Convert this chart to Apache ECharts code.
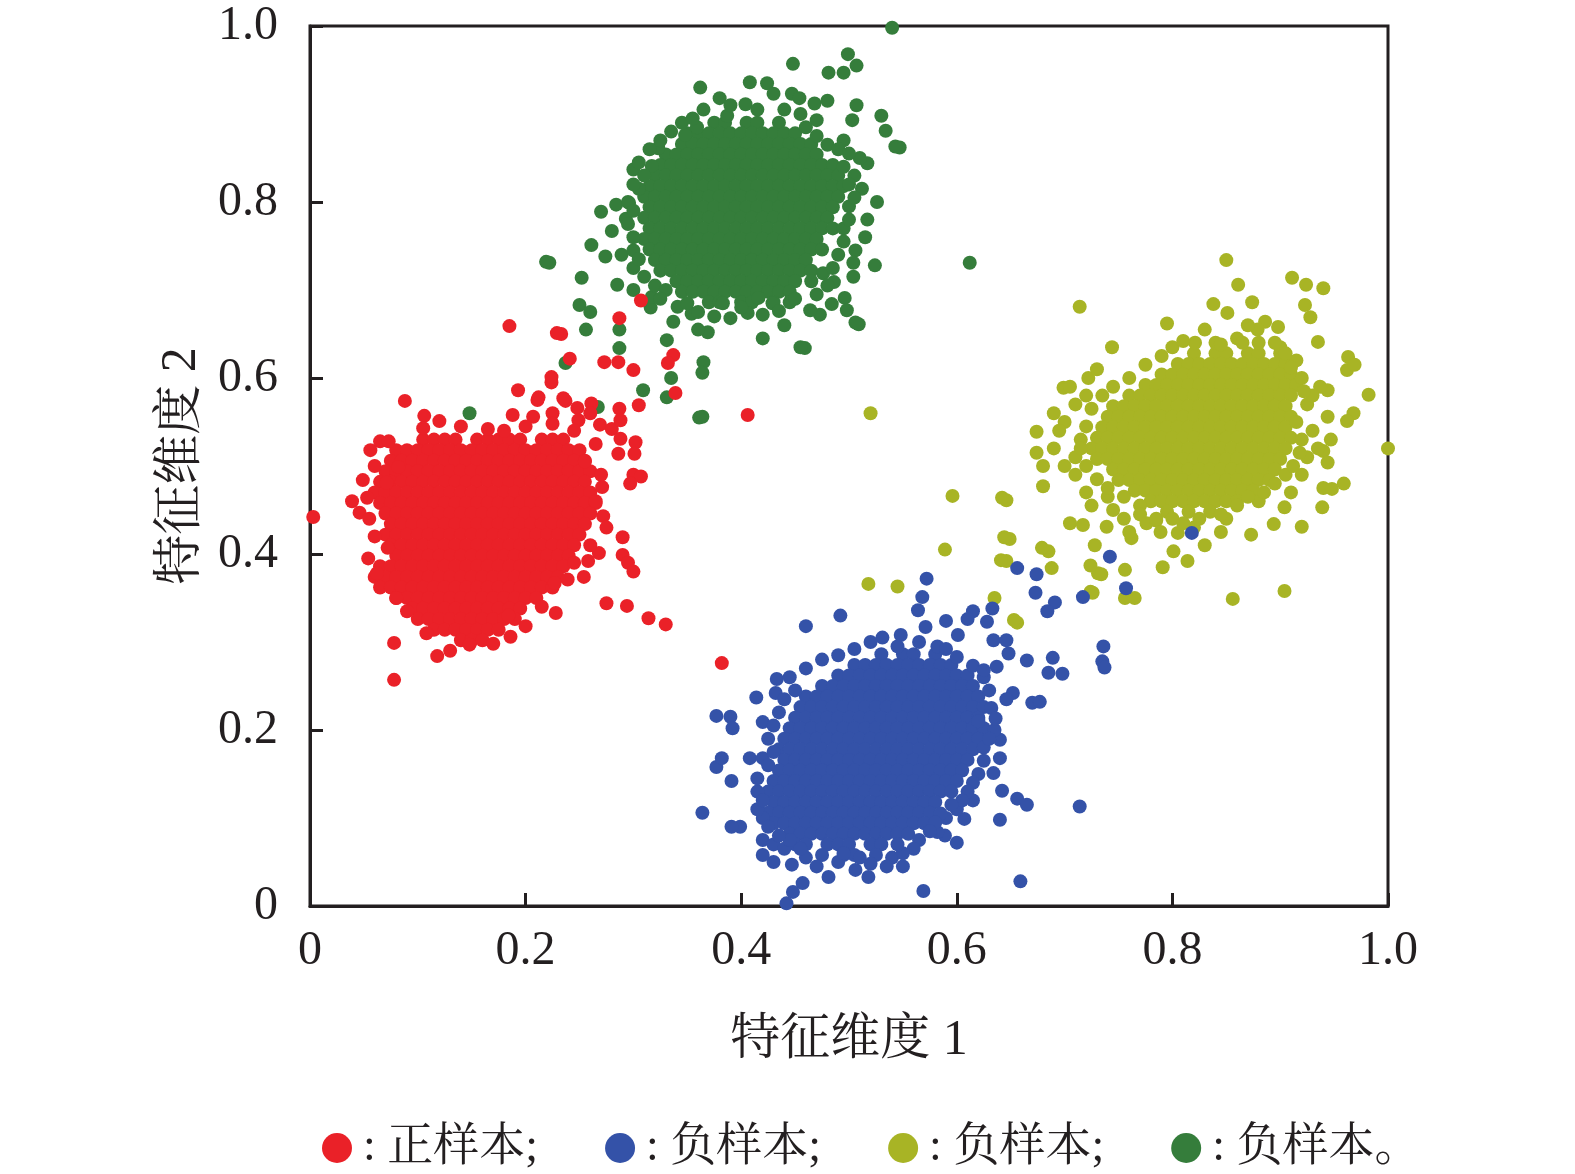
<!DOCTYPE html>
<html>
<head>
<meta charset="utf-8">
<script src="https://cdn.jsdelivr.net/npm/echarts@6/dist/echarts.min.js"></script>
<style>
html, body { margin: 0; padding: 0; background: #fff; }
#main { width: 1575px; height: 1174px; }
</style>
</head>
<body>
<div id="main"></div>
<script>
var color = ['#ea2128', '#3452a8', '#a8b425', '#357d3b'];  // 红 蓝 黄绿 绿
var ink = '#231f20';
var fontStack = "'Liberation Serif', 'Noto Serif CJK SC', 'Noto Sans CJK SC', serif";

var seriesNames = ['正样本', '负样本 A', '负样本 B', '负样本 C'];
var legendTexts = [': 正样本;', ': 负样本;', ': 负样本;', ': 负样本。'];

// 密集核心：每行 [y, [x...]]
var redCore = [
	[.530, [.105,.115,.125,.135,.155,.165,.175,.185,.195,.215,.225,.235]],
	[.518, [.08,.09,.10,.11,.12,.13,.14,.15,.16,.17,.18,.19,.20,.21,.22,.23,.24,.25]],
	[.506, [.075,.085,.095,.105,.115,.125,.135,.145,.155,.165,.175,.185,.195,.205,.215,.225,.235,.245,.255]],
	[.494, [.07,.08,.09,.10,.11,.12,.13,.14,.15,.16,.17,.18,.19,.20,.21,.22,.23,.24,.25,.26]],
	[.482, [.065,.075,.085,.095,.105,.115,.125,.135,.145,.155,.165,.175,.185,.195,.205,.215,.225,.235,.245,.255]],
	[.470, [.06,.07,.08,.09,.10,.11,.12,.13,.14,.15,.16,.17,.18,.19,.20,.21,.22,.23,.24,.25,.26]],
	[.458, [.065,.075,.085,.095,.105,.115,.125,.135,.145,.155,.165,.175,.185,.195,.205,.215,.225,.235,.245,.255,.265]],
	[.446, [.07,.08,.09,.10,.11,.12,.13,.14,.15,.16,.17,.18,.19,.20,.21,.22,.23,.24,.25,.26]],
	[.434, [.075,.085,.095,.105,.115,.125,.135,.145,.155,.165,.175,.185,.195,.205,.215,.225,.235,.245,.255]],
	[.422, [.07,.08,.09,.10,.11,.12,.13,.14,.15,.16,.17,.18,.19,.20,.21,.22,.23,.24,.25]],
	[.410, [.075,.085,.095,.105,.115,.125,.135,.145,.155,.165,.175,.185,.195,.205,.215,.225,.235,.245]],
	[.398, [.08,.09,.10,.11,.12,.13,.14,.15,.16,.17,.18,.19,.20,.21,.22,.23,.24]],
	[.386, [.065,.075,.085,.095,.105,.115,.125,.135,.145,.155,.165,.175,.185,.195,.205,.215,.225,.235]],
	[.374, [.06,.07,.08,.09,.10,.11,.12,.13,.14,.15,.16,.17,.18,.19,.20,.21,.22,.23]],
	[.362, [.065,.075,.085,.095,.105,.115,.125,.135,.145,.155,.165,.175,.185,.195,.205,.215,.225]],
	[.350, [.08,.09,.10,.11,.12,.13,.14,.15,.16,.17,.18,.19,.20,.21]],
	[.338, [.095,.105,.115,.125,.135,.145,.155,.165,.175,.185,.195]],
	[.326, [.10,.11,.12,.13,.14,.15,.16,.17,.18,.19]],
	[.314, [.115,.125,.135,.145,.155,.165,.175]],
	[.302, [.14,.15,.16]]
];
var greenCore = [
	[.890, [.375,.385,.405,.415,.435]],
	[.878, [.35,.36,.37,.38,.39,.40,.41,.42,.43,.44,.45]],
	[.866, [.345,.355,.365,.375,.385,.395,.405,.415,.425,.435,.445,.455,.465]],
	[.854, [.33,.34,.35,.36,.37,.38,.39,.40,.41,.42,.43,.44,.45,.46,.47]],
	[.842, [.325,.335,.345,.355,.365,.375,.385,.395,.405,.415,.425,.435,.445,.455,.465,.475,.485]],
	[.830, [.32,.33,.34,.35,.36,.37,.38,.39,.40,.41,.42,.43,.44,.45,.46,.47,.48,.49]],
	[.818, [.315,.325,.335,.345,.355,.365,.375,.385,.395,.405,.415,.425,.435,.445,.455,.465,.475,.485,.495]],
	[.806, [.31,.32,.33,.34,.35,.36,.37,.38,.39,.40,.41,.42,.43,.44,.45,.46,.47,.48,.49]],
	[.794, [.315,.325,.335,.345,.355,.365,.375,.385,.395,.405,.415,.425,.435,.445,.455,.465,.475,.485]],
	[.782, [.31,.32,.33,.34,.35,.36,.37,.38,.39,.40,.41,.42,.43,.44,.45,.46,.47,.48]],
	[.770, [.315,.325,.335,.345,.355,.365,.375,.385,.395,.405,.415,.425,.435,.445,.455,.465,.475,.485]],
	[.758, [.31,.32,.33,.34,.35,.36,.37,.38,.39,.40,.41,.42,.43,.44,.45,.46,.47]],
	[.746, [.315,.325,.335,.345,.355,.365,.375,.385,.395,.405,.415,.425,.435,.445,.455,.465,.475]],
	[.734, [.32,.33,.34,.35,.36,.37,.38,.39,.40,.41,.42,.43,.44,.45,.46]],
	[.722, [.325,.335,.345,.355,.365,.375,.385,.395,.405,.415,.425,.435,.445,.455,.465]],
	[.710, [.34,.35,.36,.37,.38,.39,.40,.41,.42,.43,.44,.45]],
	[.698, [.345,.355,.365,.375,.385,.395,.405,.415,.425,.435,.445]],
	[.686, [.37,.38,.40,.41,.43]]
];
var blueCore = [
	[.286, [.53,.55,.56,.58]],
	[.274, [.505,.515,.525,.535,.545,.555,.565,.575,.585,.595]],
	[.262, [.49,.50,.51,.52,.53,.54,.55,.56,.57,.58,.59,.60,.61]],
	[.250, [.475,.485,.495,.505,.515,.525,.535,.545,.555,.565,.575,.585,.595,.605,.615]],
	[.238, [.46,.47,.48,.49,.50,.51,.52,.53,.54,.55,.56,.57,.58,.59,.60,.61,.62]],
	[.226, [.455,.465,.475,.485,.495,.505,.515,.525,.535,.545,.555,.565,.575,.585,.595,.605,.615,.625]],
	[.214, [.45,.46,.47,.48,.49,.50,.51,.52,.53,.54,.55,.56,.57,.58,.59,.60,.61,.62]],
	[.202, [.445,.455,.465,.475,.485,.495,.505,.515,.525,.535,.545,.555,.565,.575,.585,.595,.605,.615,.625]],
	[.190, [.44,.45,.46,.47,.48,.49,.50,.51,.52,.53,.54,.55,.56,.57,.58,.59,.60,.61,.62]],
	[.178, [.435,.445,.455,.465,.475,.485,.495,.505,.515,.525,.535,.545,.555,.565,.575,.585,.595,.605,.615]],
	[.166, [.44,.45,.46,.47,.48,.49,.50,.51,.52,.53,.54,.55,.56,.57,.58,.59,.60,.61]],
	[.154, [.435,.445,.455,.465,.475,.485,.495,.505,.515,.525,.535,.545,.555,.565,.575,.585,.595,.605]],
	[.142, [.43,.44,.45,.46,.47,.48,.49,.50,.51,.52,.53,.54,.55,.56,.57,.58,.59,.60]],
	[.130, [.425,.435,.445,.455,.465,.475,.485,.495,.505,.515,.525,.535,.545,.555,.565,.575,.585,.595]],
	[.118, [.43,.44,.45,.46,.47,.48,.49,.50,.51,.52,.53,.54,.55,.56,.57,.58]],
	[.106, [.425,.435,.445,.455,.465,.475,.485,.495,.505,.515,.525,.535,.545,.555,.565,.575]],
	[.094, [.43,.44,.45,.46,.47,.48,.49,.50,.51,.52,.53,.54,.55,.56,.57]],
	[.082, [.445,.455,.465,.475,.485,.495,.505,.515,.525,.535,.545,.555]],
	[.070, [.45,.46,.48,.49,.50,.52,.53]],
	[.058, [.475,.495,.505,.525]]
];
var yellowCore = [
	[.628, [.82,.84,.85,.87,.88,.90]],
	[.616, [.805,.815,.825,.835,.845,.855,.865,.875,.885,.895,.905]],
	[.604, [.79,.80,.81,.82,.83,.84,.85,.86,.87,.88,.89,.90,.91]],
	[.592, [.775,.785,.795,.805,.815,.825,.835,.845,.855,.865,.875,.885,.895,.905,.915]],
	[.580, [.76,.77,.78,.79,.80,.81,.82,.83,.84,.85,.86,.87,.88,.89,.90,.91]],
	[.568, [.745,.755,.765,.775,.785,.795,.805,.815,.825,.835,.845,.855,.865,.875,.885,.895,.905]],
	[.556, [.74,.75,.76,.77,.78,.79,.80,.81,.82,.83,.84,.85,.86,.87,.88,.89,.90,.91]],
	[.544, [.735,.745,.755,.765,.775,.785,.795,.805,.815,.825,.835,.845,.855,.865,.875,.885,.895,.905]],
	[.532, [.73,.74,.75,.76,.77,.78,.79,.80,.81,.82,.83,.84,.85,.86,.87,.88,.89,.90,.91]],
	[.520, [.725,.735,.745,.755,.765,.775,.785,.795,.805,.815,.825,.835,.845,.855,.865,.875,.885,.895,.905]],
	[.508, [.73,.74,.75,.76,.77,.78,.79,.80,.81,.82,.83,.84,.85,.86,.87,.88,.89,.90]],
	[.496, [.745,.755,.765,.775,.785,.795,.805,.815,.825,.835,.845,.855,.865,.875,.885,.895]],
	[.484, [.75,.76,.77,.78,.79,.80,.81,.82,.83,.84,.85,.86,.87,.88,.89]],
	[.472, [.765,.775,.785,.795,.805,.815,.825,.835,.845,.855,.865,.875]],
	[.460, [.78,.79,.80,.81,.82,.83,.84,.85,.86]],
	[.448, [.795,.815,.835]]
];

// 外围散点 [x, y]
var redOuter = [
	[.003,.442],[.088,.574],[.193,.586],[.224,.595],[.211,.575],[.237,.574],[.248,.566],[.261,.571],
	[.287,.565],[.305,.569],[.339,.583],[.106,.557],[.120,.551],[.105,.543],[.188,.558],[.207,.556],
	[.225,.560],[.269,.547],[.280,.542],[.288,.531],[.302,.527],[.286,.514],[.301,.514],[.300,.490],
	[.307,.488],[.297,.480],[.271,.476],[.272,.443],[.290,.419],[.290,.399],[.295,.390],[.300,.380],
	[.268,.401],[.258,.392],[.254,.374],[.239,.371],[.227,.367],[.275,.344],[.294,.341],[.314,.327],
	[.330,.320],[.228,.333],[.184,.330],[.186,.306],[.148,.297],[.118,.284],[.078,.299],[.078,.257],
	[.108,.310],[.054,.395],[.062,.378],[.072,.407],[.039,.460],[.046,.447],[.053,.464],[.049,.484],
	[.056,.518],[.065,.528],[.073,.528],[.082,.499],[.071,.481],[.307,.688],[.287,.668],[.233,.650],
	[.241,.622],[.273,.618],[.286,.618],[.300,.609],[.337,.626],[.332,.617],[.224,.601],[.212,.578],
	[.235,.577],[.260,.560],[.249,.552],[.288,.552],[.225,.548],[.406,.558],[.185,.659],[.229,.651],
	[.382,.276],[.265,.525],[.255,.505],[.270,.490],[.265,.460],[.275,.430],[.260,.410],[.245,.390],
	[.140,.545],[.165,.542],[.180,.540],[.200,.545],[.245,.540],[.130,.290],[.170,.298],[.200,.318],
	[.215,.340],[.090,.335],[.080,.350],[.060,.420],[.055,.440],[.060,.500]
];
var greenOuter = [
	[.540,.998],[.499,.968],[.507,.955],[.495,.947],[.481,.947],[.448,.957],[.408,.936],[.424,.935],
	[.362,.930],[.380,.918],[.404,.911],[.430,.923],[.447,.923],[.454,.918],[.468,.912],[.480,.915],
	[.507,.910],[.530,.898],[.534,.881],[.547,.862],[.503,.893],[.470,.893],[.387,.898],[.359,.885],
	[.348,.876],[.323,.861],[.300,.837],[.317,.841],[.517,.844],[.526,.800],[.517,.780],[.506,.745],
	[.524,.728],[.504,.731],[.504,.715],[.476,.719],[.486,.709],[.496,.691],[.498,.677],[.484,.684],
	[.509,.661],[.459,.634],[.420,.645],[.473,.672],[.464,.677],[.445,.686],[.429,.685],[.416,.691],
	[.406,.674],[.383,.685],[.369,.652],[.360,.655],[.354,.673],[.341,.681],[.337,.664],[.331,.643],
	[.365,.618],[.364,.606],[.335,.600],[.331,.578],[.309,.586],[.364,.556],[.316,.680],[.317,.692],
	[.300,.700],[.285,.706],[.287,.655],[.287,.634],[.256,.655],[.250,.683],[.260,.675],[.252,.714],
	[.222,.731],[.237,.617],[.267,.567],[.261,.751],[.274,.738],[.270,.789],[.284,.797],[.296,.799],
	[.280,.767],[.293,.781],[.289,.740],[.612,.731],[.455,.635],[.361,.555],[.219,.732],[.148,.560],
	[.506,.663],[.543,.863],[.505,.830],[.512,.815],[.500,.795],[.515,.760],[.495,.770],[.510,.850],
	[.495,.870],[.300,.760],[.305,.815],[.300,.725],
	[.365,.905],[.390,.910],[.415,.905],[.440,.905],[.455,.900],[.460,.885],[.470,.875],[.480,.865],
	[.490,.860],[.500,.855],[.495,.840],[.500,.820],[.505,.805],[.500,.780],[.495,.755],[.490,.740],
	[.485,.725],[.480,.705],[.470,.695],[.465,.710],[.350,.685],[.360,.675],[.375,.670],[.390,.668],
	[.400,.680],[.420,.672],[.435,.676],[.450,.690],[.440,.660],[.305,.845],[.310,.830],[.300,.820],
	[.295,.800],[.300,.790],[.295,.775],[.300,.745],[.305,.735],[.310,.715],[.320,.705],[.330,.700],
	[.325,.690],[.315,.860],[.325,.870],[.335,.880],[.345,.890],[.355,.895]
];
var blueOuter = [
	[.572,.372],[.568,.351],[.564,.336],[.571,.317],[.590,.324],[.492,.330],[.460,.318],[.531,.305],
	[.548,.308],[.582,.295],[.615,.335],[.633,.338],[.628,.323],[.610,.326],[.601,.308],[.634,.302],
	[.646,.302],[.656,.384],[.674,.377],[.673,.356],[.691,.345],[.684,.335],[.717,.351],[.742,.397],
	[.736,.295],[.735,.278],[.737,.271],[.689,.282],[.685,.265],[.698,.264],[.665,.279],[.648,.287],
	[.637,.272],[.652,.242],[.646,.235],[.670,.231],[.677,.232],[.640,.189],[.640,.168],[.634,.151],
	[.642,.131],[.656,.122],[.665,.115],[.714,.113],[.640,.098],[.659,.028],[.607,.099],[.600,.072],
	[.589,.080],[.582,.084],[.569,.017],[.518,.033],[.506,.041],[.481,.033],[.457,.026],[.448,.016],
	[.442,.003],[.447,.047],[.430,.050],[.420,.058],[.399,.090],[.391,.090],[.364,.106],[.391,.142],
	[.377,.158],[.382,.168],[.408,.168],[.420,.168],[.377,.216],[.390,.215],[.392,.202],[.414,.237],
	[.433,.258],[.432,.242],[.420,.209],[.818,.424],[.757,.361],[.625,.260],[.630,.245],[.620,.210],
	[.635,.200],[.625,.180],[.615,.120],[.600,.110],[.590,.100],[.420,.100],[.415,.130],[.420,.075],
	[.430,.070],[.440,.065],[.490,.050],[.520,.048],[.540,.055],[.550,.045],
	[.445,.260],[.460,.270],[.475,.280],[.490,.285],[.505,.292],[.520,.300],[.545,.295],[.565,.300],
	[.590,.292],[.600,.283],[.615,.273],[.625,.268],[.632,.225],[.636,.213],[.630,.190],[.625,.165],
	[.620,.150],[.615,.140],[.610,.130],[.605,.120],[.595,.115],[.585,.105],[.580,.095],[.575,.085],
	[.565,.075],[.560,.065],[.550,.060],[.545,.070],[.535,.045],[.510,.055],[.495,.060],[.470,.045],
	[.460,.055],[.455,.065],[.445,.075],[.435,.080],[.425,.090],[.415,.110],[.420,.120],[.415,.145],
	[.425,.160],[.430,.175],[.425,.190],[.430,.205],[.435,.220],[.440,.235],[.450,.245]
];
var yellowOuter = [
	[.850,.734],[.911,.714],[.924,.706],[.940,.702],[.861,.706],[.874,.686],[.838,.684],[.714,.681],
	[.795,.662],[.923,.683],[.928,.669],[.935,.641],[.898,.658],[.886,.664],[.879,.655],[.851,.674],
	[.821,.640],[.744,.635],[.963,.624],[.962,.609],[.969,.615],[.982,.581],[.968,.560],[.962,.551],
	[.944,.556],[.944,.586],[.937,.590],[1.0,.520],[.947,.530],[.940,.517],[.944,.504],[.959,.480],
	[.940,.475],[.948,.474],[.939,.453],[.920,.431],[.894,.434],[.904,.453],[.873,.422],[.904,.358],
	[.856,.349],[.814,.392],[.801,.403],[.791,.385],[.805,.424],[.756,.350],[.765,.350],[.756,.382],
	[.728,.410],[.731,.378],[.724,.357],[.688,.384],[.685,.403],[.649,.417],[.646,.392],[.646,.461],
	[.680,.477],[.674,.539],[.674,.515],[.699,.589],[.722,.600],[.739,.431],[.705,.435],[.717,.433],
	[.762,.418],[.776,.435],[.785,.438],[.789,.425],[.589,.405],[.545,.363],[.635,.350],[.656,.322],
	[.583,.257],[.724,.387],[.734,.377],[.726,.356],[.605,.231],[.535,.261],[.520,.560],[.596,.466],
	[.642,.464],[.644,.419],[.641,.393],[.518,.366],[.679,.407],[.580,.260],[.653,.325],[.690,.520],
	[.700,.500],[.700,.550],[.710,.570],[.715,.530],[.710,.490],[.720,.470],[.690,.560],[.705,.590],
	[.680,.500],[.720,.580],[.730,.610],[.725,.455],[.745,.450],[.755,.440],[.740,.465],[.695,.540],
	[.710,.510],[.920,.600],[.925,.570],[.930,.540],[.925,.510],[.920,.490],[.915,.620],[.910,.470],
	[.930,.580],[.935,.520],[.840,.640],[.860,.645],[.880,.640],[.900,.635],[.800,.635],[.830,.655],
	[.870,.660],[.770,.455],[.800,.440],[.850,.440],[.820,.430],[.830,.410],[.860,.455],[.880,.460],
	[.760,.425],[.845,.425],
	[.810,.642],[.790,.625],[.775,.615],[.760,.600],[.745,.590],[.735,.580],[.725,.565],[.720,.545],
	[.715,.520],[.720,.500],[.730,.485],[.740,.475],[.755,.465],[.770,.445],[.785,.440],[.810,.435],
	[.825,.440],[.845,.445],[.870,.465],[.885,.470],[.895,.480],[.905,.490],[.912,.500],[.918,.515],
	[.920,.530],[.915,.550],[.922,.585],[.910,.612],[.905,.628],[.895,.640],[.865,.640],[.845,.638]
];

function toPoints(rows, outer){
	var res = [];
	rows.forEach(function(r){ r[1].forEach(function(x){ res.push([x, r[0]]); }); });
	outer.forEach(function(p){ res.push(p); });
	return res;
}

function fmt(v){ return v === 0 ? '0' : v.toFixed(1); }

var chart = echarts.init(document.getElementById('main'));

function scatter(name, c, pts){
	return {
		name: name,
		type: 'scatter',
		symbol: 'circle',
		symbolSize: 14,
		itemStyle: { color: c, opacity: 1 },
		data: pts
	};
}

var axisCommon = {
	type: 'value',
	min: 0, max: 1, interval: 0.2,
	axisLine: { show: true, lineStyle: { color: ink, width: 3 } },
	axisTick: { show: true, inside: true, length: 13, lineStyle: { color: ink, width: 3 } },
	splitLine: { show: false },
	nameLocation: 'middle',
	nameTextStyle: { fontSize: 50, color: ink, fontFamily: fontStack }
};

chart.setOption({
	animation: false,
	backgroundColor: '#fff',
	grid: {
		left: 310, right: 187, top: 26, bottom: 268,
		show: true, borderColor: ink, borderWidth: 3, backgroundColor: 'transparent'
	},
	legend: {
		data: [seriesNames[0], seriesNames[1], seriesNames[2], seriesNames[3]],
		left: 317, top: 1120,
		icon: 'circle',
		itemWidth: 30, itemHeight: 30, itemGap: 67,
		formatter: function(n){ return legendTexts[seriesNames.indexOf(n)]; },
		textStyle: { fontSize: 46, color: ink, fontFamily: fontStack, padding: [0, 0, 0, 6] }
	},
	xAxis: Object.assign({}, axisCommon, {
		name: '特征维度 1', nameGap: 110,
		axisLabel: { fontSize: 48, color: ink, fontFamily: fontStack, margin: 21, formatter: fmt }
	}),
	yAxis: Object.assign({}, axisCommon, {
		name: '特征维度 2', nameGap: 101,
		axisLabel: { fontSize: 48, color: ink, fontFamily: fontStack, margin: 32, formatter: fmt }
	}),
	series: [
		scatter(seriesNames[3], color[3], toPoints(greenCore, greenOuter)),
		scatter(seriesNames[0], color[0], toPoints(redCore, redOuter)),
		scatter(seriesNames[2], color[2], toPoints(yellowCore, yellowOuter)),
		scatter(seriesNames[1], color[1], toPoints(blueCore, blueOuter))
	]
});
</script>
</body>
</html>
